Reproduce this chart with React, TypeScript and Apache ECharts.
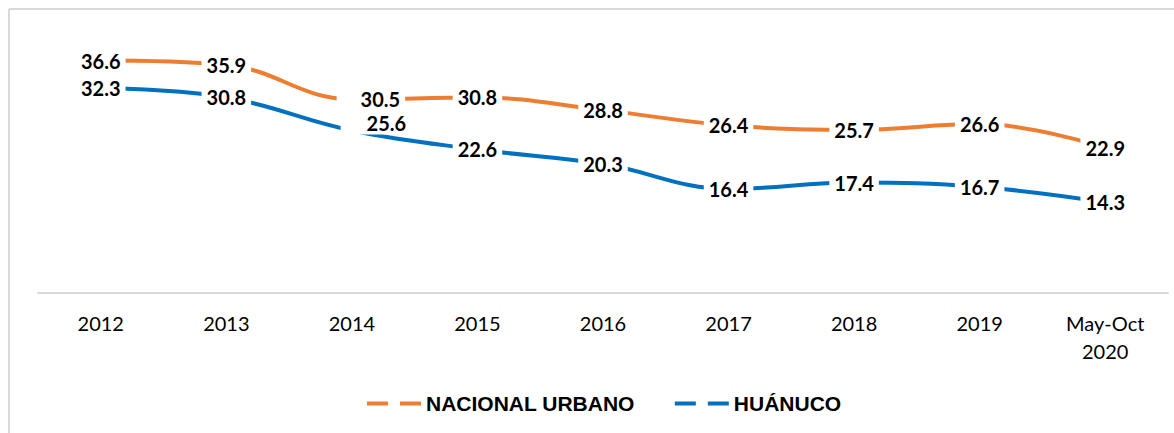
import React, { useEffect, useRef } from "react";
import * as echarts from "echarts";

const categories = ["2012", "2013", "2014", "2015", "2016", "2017", "2018", "2019", "May-Oct\n2020"];
const nacionalUrbano = [36.6, 35.9, 30.5, 30.8, 28.8, 26.4, 25.7, 26.6, 22.9];
const huanuco = [32.3, 30.8, 25.6, 22.6, 20.3, 16.4, 17.4, 16.7, 14.3];
const seriesNames = ["NACIONAL URBANO", "HUÁNUCO"];

const ORANGE = "#ED7D31";
const BLUE = "#0070C0";

// per-point label adjustments (index -> offset / padding)
const orangeLabelAdjust: Record<number, any> = {
  2: { offset: [19, 0], lineHeight: 16, padding: [3, 5, 0, 24] },
};
const blueLabelAdjust: Record<number, any> = {
  2: { offset: [24, -7], lineHeight: 16, padding: [0, 5, 6, 26] },
};

const DASH_ICON = "path://M0,0h21v4h-21z M33,0h21v4h-21z";

function buildData(values: number[], adjust: Record<number, any>) {
  return values.map((v, i) =>
    adjust[i] ? { value: v, label: { ...adjust[i] } } : { value: v }
  );
}

export default function App() {
  const ref = useRef<HTMLDivElement>(null);
  useEffect(() => {
    if (!ref.current) return;
    const chart = echarts.init(ref.current, null, { renderer: "svg" });
    const labelBase = {
      show: true,
      position: "inside",
      color: "#000",
      fontFamily: "Lato",
      fontWeight: "bold",
      fontSize: 20,
      lineHeight: 18,
      backgroundColor: "#fff",
      padding: [2, 5, 2, 5],
      formatter: (p: any) => Number(p.value).toFixed(1),
    };
    chart.setOption({
      animation: false,
      backgroundColor: "#fff",
      grid: { left: 38, right: 6, top: 39, bottom: 140, containLabel: false },
      xAxis: {
        type: "category",
        data: categories,
        boundaryGap: true,
        axisLine: { show: true, lineStyle: { color: "#d9d9d9", width: 2 } },
        axisTick: { show: false },
        axisLabel: {
          color: "#000",
          fontFamily: "Lato",
          fontSize: 20,
          lineHeight: 28,
          margin: 16,
          interval: 0,
          align: "center",
        },
        splitLine: { show: false },
      },
      yAxis: {
        type: "value",
        min: 0,
        max: 40,
        show: false,
        splitLine: { show: false },
      },
      legend: {
        data: seriesNames.map((n) => ({ name: n, icon: DASH_ICON })),
        left: 367,
        top: 393,
        padding: 0,
        itemWidth: 54,
        itemHeight: 4,
        itemGap: 40,
        textStyle: {
          color: "#000",
          fontFamily: "Liberation Sans, Arial, sans-serif",
          fontWeight: "bold",
          fontSize: 21,
        },
      },
      graphic: [
        {
          type: "line",
          shape: { x1: 9, y1: 9, x2: 1174, y2: 9 },
          style: { stroke: "#d9d9d9", lineWidth: 2 },
          silent: true,
        },
        {
          type: "line",
          shape: { x1: 9, y1: 9, x2: 9, y2: 433 },
          style: { stroke: "#d9d9d9", lineWidth: 2 },
          silent: true,
        },
      ],
      series: [
        {
          name: seriesNames[0],
          type: "line",
          data: buildData(nacionalUrbano, orangeLabelAdjust),
          smooth: 0.4,
          symbol: "circle",
          symbolSize: 1,
          showSymbol: true,
          lineStyle: { color: ORANGE, width: 4 },
          itemStyle: { color: ORANGE },
          label: labelBase,
        },
        {
          name: seriesNames[1],
          type: "line",
          data: buildData(huanuco, blueLabelAdjust),
          smooth: 0.4,
          symbol: "circle",
          symbolSize: 1,
          showSymbol: true,
          lineStyle: { color: BLUE, width: 4 },
          itemStyle: { color: BLUE },
          label: labelBase,
        },
      ],
    });
    return () => chart.dispose();
  }, []);
  return (
    <div
      ref={ref}
      style={{ position: "fixed", left: 0, top: 0, width: 1174, height: 433 }}
    />
  );
}
